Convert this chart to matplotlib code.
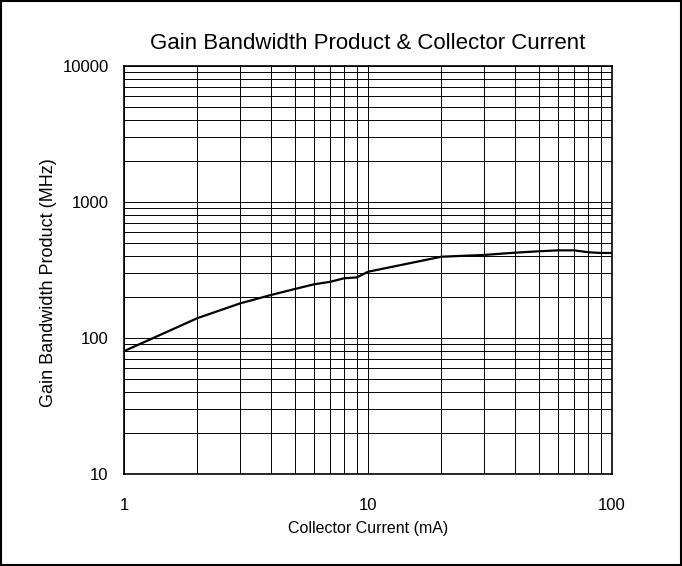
import matplotlib
matplotlib.use("Agg")
import matplotlib.pyplot as plt
from matplotlib.ticker import LogLocator, FixedLocator, FixedFormatter, NullFormatter
from matplotlib.patches import Rectangle

plt.rcParams['font.family'] = ['Liberation Sans', 'DejaVu Sans']

current_ma = [1, 2, 3, 4, 5, 6, 7, 8, 9, 10, 20, 30, 40, 50, 60, 70, 80, 90, 100]
gbw_mhz = [80, 140, 180, 207, 229, 248, 259, 275, 279, 307, 396, 408, 424, 434, 441, 441, 427, 422, 422]

x_ticks = [1, 10, 100]
x_tick_labels = ["1", "10", "100"]
y_ticks = [10, 100, 1000, 10000]
y_tick_labels = ["10", "100", "1000", "10000"]

fig = plt.figure(figsize=(6.82, 5.66), dpi=100)
ax = fig.add_axes([124/682, 1-474/566, (612-124)/682, (474-66)/566])

ax.plot(current_ma, gbw_mhz, color='black', lw=1.6, zorder=3)
ax.set_xscale('log')
ax.set_yscale('log')
ax.set_xlim(1, 100)
ax.set_ylim(10, 10000)

ax.xaxis.set_major_locator(FixedLocator(x_ticks))
ax.xaxis.set_major_formatter(FixedFormatter(x_tick_labels))
ax.yaxis.set_major_locator(FixedLocator(y_ticks))
ax.yaxis.set_major_formatter(FixedFormatter(y_tick_labels))
ax.xaxis.set_minor_locator(LogLocator(base=10, subs=range(2, 10)))
ax.yaxis.set_minor_locator(LogLocator(base=10, subs=range(2, 10)))
ax.xaxis.set_minor_formatter(NullFormatter())
ax.yaxis.set_minor_formatter(NullFormatter())

ax.grid(True, which='both', color='black', lw=0.7)
ax.tick_params(which='both', length=0)
ax.tick_params(axis='x', labelsize=12, pad=17)
ax.tick_params(axis='y', labelsize=12, pad=11)
for s in ax.spines.values():
    s.set_linewidth(1.2)
    s.set_color('black')

ax.set_title("Gain Bandwidth Product & Collector Current", fontsize=16, pad=12)
ax.set_xlabel("Collector Current (mA)", fontsize=11.5, labelpad=6)
ax.set_ylabel("Gain Bandwidth Product (MHz)", fontsize=13)
ax.yaxis.set_label_coords(-0.138, 0.47)

fig.patches.append(Rectangle((0.002, 0.002), 0.996, 0.996, transform=fig.transFigure,
                             fill=False, edgecolor='black', lw=1.5))

fig.savefig("out.png", dpi=100)
